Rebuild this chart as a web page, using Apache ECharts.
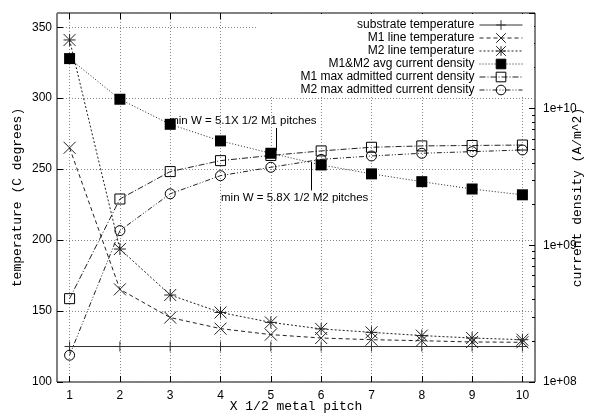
<!DOCTYPE html>
<html>
<head>
<meta charset="utf-8">
<script src="https://cdn.jsdelivr.net/npm/echarts@6/dist/echarts.min.js"></script>
<style>
  html, body { margin: 0; padding: 0; background: #fff; }
  #chart { width: 596px; height: 418px; }
</style>
</head>
<body>
<div id="chart"></div>
<script>
// x positions (in half metal pitches)
var pitches = [1, 2, 3, 4, 5, 6, 7, 8, 9, 10];

// temperatures, left axis (C degrees)
var substrateTemp = [125, 125, 125, 125, 125, 125, 125, 125, 125, 125];
var m1LineTemp = [265, 165.3, 145.4, 137.6, 133.4, 131, 129.8, 129.1, 128.2, 128];
var m2LineTemp = [341, 193.7, 161.3, 149, 142, 137.4, 135, 132.7, 131, 129.8];

// current densities, right axis (A/m^2)
var avgDensity = [2.32e10, 1.17e10, 7.67e9, 5.8e9, 4.71e9, 3.87e9, 3.33e9, 2.92e9, 2.58e9, 2.34e9];
var m1MaxDensity = [4.07e8, 2.18e9, 3.46e9, 4.16e9, 4.54e9, 4.9e9, 5.21e9, 5.33e9, 5.37e9, 5.41e9];
var m2MaxDensity = [1.57e8, 1.28e9, 2.38e9, 3.23e9, 3.72e9, 4.25e9, 4.5e9, 4.71e9, 4.84e9, 4.98e9];

var minorDensityTicks = [2e8, 3e8, 4e8, 5e8, 6e8, 7e8, 8e8, 9e8,
  2e9, 3e9, 4e9, 5e9, 6e9, 7e9, 8e9, 9e9, 2e10, 3e10, 4e10];

// annotations
var noteText = ['min W = 5.1X 1/2 M1 pitches', 'min W = 5.8X 1/2 M2 pitches'];
var noteAt = [[2.98, 284], [4.01, 230]];
var arrowX = [5.1, 5.8];
var arrowFrom = [279, 235];
var arrowTo = [263, 255];

var sans = 'Liberation Sans';
var mono = 'Liberation Mono';

function pairs(vals) {
  return pitches.map(function (x, i) { return [x, vals[i]]; });
}

function sci(v) {
  var e = Math.round(Math.log10(v));
  if (Math.abs(v - Math.pow(10, e)) > 1e-6 * v) return '';
  return '1e+' + (e < 10 ? '0' : '') + e;
}

var chart = echarts.init(document.getElementById('chart'));

var option = {
  animation: false,
  backgroundColor: '#fff',
  textStyle: { fontFamily: sans, color: '#000' },
  grid: {
    left: 57, right: 61, top: 13, bottom: 36,
    outerBoundsMode: 'none',
    containLabel: false,
    show: true, borderColor: '#000', borderWidth: 1, backgroundColor: 'transparent'
  },
  legend: {
    orient: 'vertical',
    right: 62,
    top: 14,
    align: 'right',
    itemWidth: 43,
    itemHeight: 12,
    itemGap: 1,
    padding: [5, 11, 1, 43],
    backgroundColor: '#fff',
    lineStyle: { width: 1 },
    itemStyle: { borderWidth: 1 },
    textStyle: { fontFamily: sans, fontSize: 12, color: '#000' },
    data: ['substrate temperature', 'M1 line temperature', 'M2 line temperature',
      'M1&M2 avg current density', 'M1 max admitted current density', 'M2 max admitted current density']
  },
  xAxis: [
    {
      type: 'value', min: 0.75, max: 10.25, position: 'bottom',
      name: 'X 1/2 metal pitch', nameLocation: 'middle', nameGap: 18, nameMoveOverlap: false,
      nameTextStyle: { fontFamily: mono, fontSize: 13, color: '#000' },
      axisLine: { show: false },
      axisTick: { inside: true, length: 6, customValues: pitches, lineStyle: { color: '#000' } },
      axisLabel: { customValues: pitches, margin: 8, fontSize: 12, color: '#000', fontFamily: sans },
      splitLine: { show: true, lineStyle: { color: '#888', type: [1, 2], width: 1 } }
    },
    {
      type: 'value', min: 0.75, max: 10.25, position: 'top',
      axisLine: { show: false },
      axisTick: { inside: true, length: 6, customValues: pitches, lineStyle: { color: '#000' } },
      axisLabel: { show: false },
      splitLine: { show: false }
    }
  ],
  yAxis: [
    {
      type: 'value', min: 100, max: 360, interval: 50, position: 'left',
      name: 'temperature (C degrees)', nameLocation: 'middle', nameGap: 33, nameRotate: 90,
      nameMoveOverlap: false,
      nameTextStyle: { fontFamily: mono, fontSize: 13, color: '#000' },
      axisLine: { show: false },
      axisTick: { inside: true, length: 6, lineStyle: { color: '#000' } },
      axisLabel: { margin: 5, fontSize: 12, color: '#000', fontFamily: sans, showMaxLabel: false },
      splitLine: { show: true, lineStyle: { color: '#888', type: [1, 2], width: 1 } }
    },
    {
      type: 'log', logBase: 10, min: 1e8, max: 5e10, position: 'right',
      name: 'current density (A/m^2)', nameLocation: 'middle', nameGap: 36, nameRotate: 90,
      nameMoveOverlap: false,
      nameTextStyle: { fontFamily: mono, fontSize: 13, color: '#000' },
      axisLine: { show: false },
      axisTick: { inside: true, length: 6, lineStyle: { color: '#000' } },
      axisLabel: { margin: 8, fontSize: 12, color: '#000', fontFamily: sans, formatter: sci },
      splitLine: { show: false }
    },
    {
      type: 'log', logBase: 10, min: 1e8, max: 5e10, position: 'right',
      axisLine: { show: false },
      axisTick: { inside: true, length: 3, customValues: minorDensityTicks, lineStyle: { color: '#000' } },
      axisLabel: { show: false },
      splitLine: { show: false }
    }
  ],
  series: [
    {
      name: 'substrate temperature', type: 'line', yAxisIndex: 0,
      data: pairs(substrateTemp),
      symbol: 'path://M5,0L5,10M0,5L10,5', symbolSize: 10,
      lineStyle: { color: '#333', width: 1, type: 'solid' },
      itemStyle: { color: '#333', borderColor: '#333', borderWidth: 1 },
      markPoint: {
        silent: true,
        symbol: 'circle', symbolSize: 0,
        label: { show: true, position: 'right', distance: 0, color: '#000', fontFamily: sans, fontSize: 11.5 },
        data: noteText.map(function (t, i) {
          return { coord: noteAt[i], label: { formatter: t } };
        })
      },
      markLine: {
        silent: true,
        symbol: ['none', 'arrow'], symbolSize: [0, 7],
        label: { show: false },
        lineStyle: { color: '#000', width: 1, type: 'solid' },
        data: arrowX.map(function (x, i) {
          return [{ coord: [x, arrowFrom[i]] }, { coord: [x, arrowTo[i]] }];
        })
      }
    },
    {
      name: 'M1 line temperature', type: 'line', yAxisIndex: 0,
      data: pairs(m1LineTemp),
      symbol: 'path://M0,0L10,10M10,0L0,10', symbolSize: 12,
      lineStyle: { color: '#222', width: 1, type: [4, 3] },
      itemStyle: { color: '#222', borderColor: '#222', borderWidth: 1 }
    },
    {
      name: 'M2 line temperature', type: 'line', yAxisIndex: 0,
      data: pairs(m2LineTemp),
      symbol: 'path://M0,0L10,10M10,0L0,10M5,0L5,10M0,5L10,5', symbolSize: 12,
      lineStyle: { color: '#222', width: 1, type: [2, 2] },
      itemStyle: { color: '#222', borderColor: '#222', borderWidth: 1 }
    },
    {
      name: 'M1&M2 avg current density', type: 'line', yAxisIndex: 1,
      data: pairs(avgDensity),
      symbol: 'rect', symbolSize: 11,
      lineStyle: { color: '#222', width: 1, type: [1, 2] },
      itemStyle: { color: '#000', borderColor: '#000', borderWidth: 0 }
    },
    {
      name: 'M1 max admitted current density', type: 'line', yAxisIndex: 1,
      data: pairs(m1MaxDensity),
      symbol: 'rect', symbolSize: 10,
      lineStyle: { color: '#222', width: 1, type: [6, 2, 1, 2] },
      itemStyle: { color: 'transparent', borderColor: '#000', borderWidth: 1 }
    },
    {
      name: 'M2 max admitted current density', type: 'line', yAxisIndex: 1,
      data: pairs(m2MaxDensity),
      symbol: 'circle', symbolSize: 10,
      lineStyle: { color: '#222', width: 1, type: [5, 2, 1, 2, 1, 2] },
      itemStyle: { color: 'transparent', borderColor: '#000', borderWidth: 1 }
    }
  ]
};

chart.setOption(option);
</script>
</body>
</html>
